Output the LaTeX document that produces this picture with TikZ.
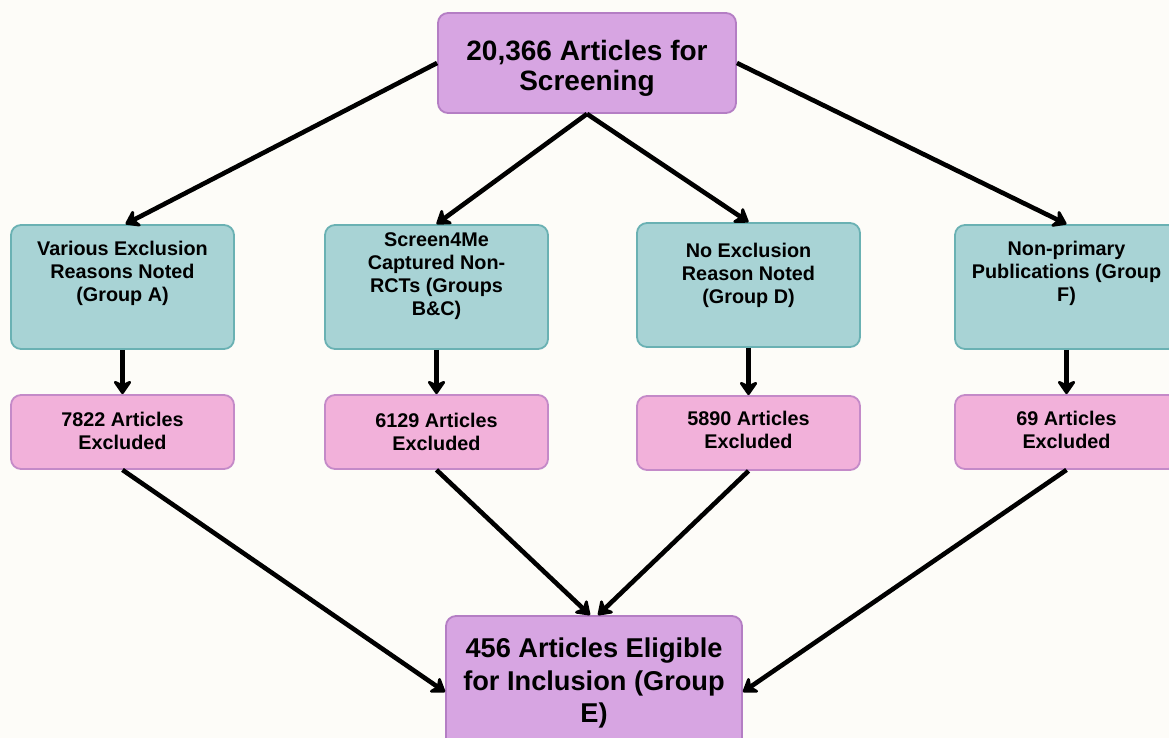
\documentclass[tikz,border=0pt]{standalone}
\usepackage{fontspec}
\setmainfont{Liberation Sans}
\usetikzlibrary{arrows.meta}
\definecolor{bgc}{HTML}{FDFCF8}
\definecolor{purfill}{HTML}{D7A5E2}
\definecolor{purline}{HTML}{B47EC4}
\definecolor{tealfill}{HTML}{A8D3D5}
\definecolor{tealline}{HTML}{6AB1B3}
\definecolor{pinkfill}{HTML}{F2B1DA}
\definecolor{pinkline}{HTML}{C48AC8}
\tikzset{
  box/.style={draw, line width=1.8pt, rounded corners=10pt, inner sep=0pt},
  purbox/.style={box, fill=purfill, draw=purline},
  tealbox/.style={box, fill=tealfill, draw=tealline, minimum width=223pt, minimum height=124pt},
  pinkbox/.style={box, fill=pinkfill, draw=pinkline, minimum width=223pt, minimum height=74pt},
  txt/.style={align=center, inner sep=0pt, font=\bfseries},
  smalltxt/.style={txt, font=\fontsize{19.8}{23}\selectfont\bfseries},
  bigtxt/.style={txt, font=\fontsize{28}{30}\selectfont\bfseries},
  bottxt/.style={txt, font=\fontsize{27.2}{32.5}\selectfont\bfseries},
  arr/.style={line width=4.6pt, -{Stealth[width=22pt,length=16pt,inset=5pt,round]}},
}
\begin{document}
\begin{tikzpicture}[x=1pt,y=-1pt]
\fill[bgc] (0,0) rectangle (1169,738);
\useasboundingbox (0,0) rectangle (1169,738);

% top
\node[purbox, minimum width=298pt, minimum height=100pt] (top) at (587,63) {};
\node[bigtxt] (topt) at (587,68) {20,366 Articles for\\Screening};

% teal boxes
\node[tealbox] (a) at (122.5,287) {};
\node[smalltxt] (at) at (122.5,273.5) {Various Exclusion\\Reasons Noted\\(Group A)};
\node[tealbox] (b) at (436.5,287) {};
\node[smalltxt] (bt) at (436.5,276.5) {Screen4Me\\Captured Non-\\RCTs (Groups\\B\&C)};
\node[tealbox] (d) at (748.5,285) {};
\node[smalltxt] (dt) at (748.5,275) {No Exclusion\\Reason Noted\\(Group D)};
\node[tealbox] (f) at (1066.5,287) {};
\node[smalltxt] (ft) at (1066.5,273) {Non-primary\\Publications (Group\\F)};

% pink boxes
\node[pinkbox] (pa) at (122.5,432) {};
\node[smalltxt] (pat) at (122.5,431) {7822 Articles\\Excluded};
\node[pinkbox] (pb) at (436.5,432) {};
\node[smalltxt] (pbt) at (436.5,432) {6129 Articles\\Excluded};
\node[pinkbox] (pd) at (748.5,433) {};
\node[smalltxt] (pdt) at (748.5,430) {5890 Articles\\Excluded};
\node[pinkbox] (pf) at (1066.5,432) {};
\node[smalltxt] (pft) at (1066.5,430) {69 Articles\\Excluded};

% bottom
\node[purbox, minimum width=296pt, minimum height=140pt] (e) at (594,686) {};
\node[bottxt] (et) at (594,683) {456 Articles Eligible\\for Inclusion (Group\\E)};

% arrows
\draw[arr] (top.west) -- ([xshift=3pt]a.north);
\draw[arr] (top.south) -- (b.north);
\draw[arr] (top.south) -- (d.north);
\draw[arr] (top.east) -- (f.north);
\draw[arr] (a.south) -- (pa.north);
\draw[arr] (b.south) -- (pb.north);
\draw[arr] (d.south) -- (pd.north);
\draw[arr] (f.south) -- (pf.north);
\draw[arr] (pa.south) -- ([yshift=-6pt]e.west);
\draw[arr] (pb.south) -- ([xshift=-4pt]e.north);
\draw[arr] (pd.south) -- ([xshift=4pt]e.north);
\draw[arr] (pf.south) -- ([yshift=-6pt]e.east);
\end{tikzpicture}
\end{document}
